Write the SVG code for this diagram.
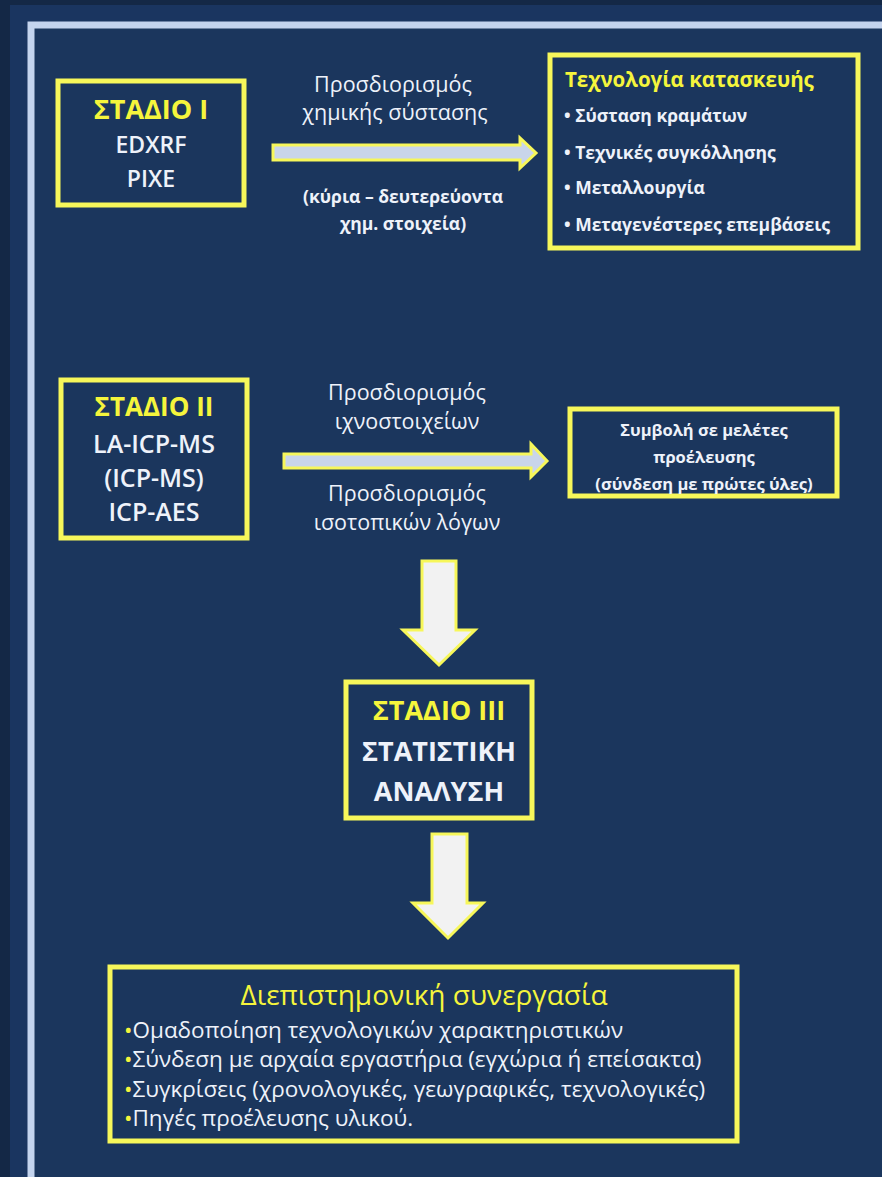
<svg xmlns="http://www.w3.org/2000/svg" width="882" height="1177" viewBox="0 0 882 1177">
<style>
.box{fill:#1b365d;stroke:#f7f75a;stroke-width:5}
.t{font-family:"Open Sans","Noto Sans","DejaVu Sans",sans-serif;text-anchor:middle;fill:#eef2fa}
.s{text-anchor:start}
.y{fill:#f5f53c;font-weight:bold}
.b{font-weight:bold}
.m{font-weight:600}
.yd{fill:#f5f53c}
.arrowH{fill:#c9d5ea;stroke:#f7f75a;stroke-width:3;stroke-linejoin:miter}
.arrowV{fill:#f2f2f2;stroke:#f7f75a;stroke-width:3;stroke-linejoin:miter}
</style>
<rect x="0" y="0" width="882" height="1177" fill="#1a3560"/>
<rect x="0" y="0" width="10" height="1177" fill="#142846"/>
<rect x="0" y="0" width="882" height="5" fill="#142846"/>
<rect x="31" y="25" width="860" height="1160" fill="#1b365d" stroke="#c4d4ee" stroke-width="7"/>

<g id="connectors">
<path class="arrowH" d="M273,145 H520 V138 L536,153 L520,168 V160 H273 Z"/>
<path class="arrowH" d="M284,454 H531 V444 L547,461 L531,477 V468 H284 Z"/>
<path class="arrowV" d="M422,561 H456 V630 H475 L439,665 L403,630 H422 Z"/>
<path class="arrowV" d="M432,834 H467 V903 H483 L448,938 L413,903 H432 Z"/>
</g>

<g id="stage1">
<rect class="box" x="58" y="81" width="186" height="124"/>
<text class="t y" x="151" y="119" font-size="27">ΣΤΑΔΙΟ Ι</text>
<text class="t m" x="151" y="153" font-size="23">EDXRF</text>
<text class="t m" x="151" y="187" font-size="23">PIXE</text>
</g>

<g id="label1">
<text class="t" x="393" y="92" font-size="21.5">Προσδιορισμός</text>
<text class="t" x="395" y="120" font-size="21.5">χημικής σύστασης</text>
<text class="t b" x="403" y="203" font-size="17.5">(κύρια – δευτερεύοντα</text>
<text class="t b" x="403" y="230" font-size="17.5">χημ. στοιχεία)</text>
</g>

<g id="tech">
<rect class="box" x="550" y="55" width="308" height="193"/>
<text class="t y s" x="565" y="87" font-size="20.5">Τεχνολογία κατασκευής</text>
<text class="t b s" x="564" y="122" font-size="17.5">• Σύσταση κραμάτων</text>
<text class="t b s" x="564" y="159" font-size="17.5">• Τεχνικές συγκόλλησης</text>
<text class="t b s" x="564" y="194" font-size="17.5">• Μεταλλουργία</text>
<text class="t b s" x="564" y="231" font-size="17.5">• Μεταγενέστερες επεμβάσεις</text>
</g>

<g id="stage2">
<rect class="box" x="61" y="380" width="186" height="158"/>
<text class="t y" x="154" y="416" font-size="26">ΣΤΑΔΙΟ ΙΙ</text>
<text class="t m" x="154" y="453" font-size="25">LA-ICP-MS</text>
<text class="t m" x="154" y="487" font-size="25">(ICP-MS)</text>
<text class="t m" x="154" y="521" font-size="25">ICP-AES</text>
</g>

<g id="label2">
<text class="t" x="407" y="400" font-size="21.5">Προσδιορισμός</text>
<text class="t" x="407" y="429" font-size="21.5">ιχνοστοιχείων</text>
<text class="t" x="407" y="501" font-size="21.5">Προσδιορισμός</text>
<text class="t" x="407" y="530" font-size="21.5">ισοτοπικών λόγων</text>
</g>

<g id="provenance">
<rect class="box" x="570" y="409" width="267" height="87"/>
<text class="t b" x="704" y="436" font-size="16.5">Συμβολή σε μελέτες</text>
<text class="t b" x="704" y="463" font-size="16.5">προέλευσης</text>
<text class="t b" x="704" y="490" font-size="16.5">(σύνδεση με πρώτες ύλες)</text>
</g>

<g id="stage3">
<rect class="box" x="346" y="682" width="186" height="136"/>
<text class="t y" x="439" y="720" font-size="27">ΣΤΑΔΙΟ ΙΙΙ</text>
<text class="t b" x="439" y="761" font-size="27">ΣΤΑΤΙΣΤΙΚΗ</text>
<text class="t b" x="439" y="801" font-size="27">ΑΝΑΛΥΣΗ</text>
</g>

<g id="interdisciplinary">
<rect class="box" x="110" y="967" width="627" height="174"/>
<text class="t yd" x="424" y="1005" font-size="28">Διεπιστημονική συνεργασία</text>
<text class="t s" x="124" y="1038" font-size="22.5"><tspan class="yd">•</tspan>Ομαδοποίηση τεχνολογικών χαρακτηριστικών</text>
<text class="t s" x="124" y="1067" font-size="22.5"><tspan class="yd">•</tspan>Σύνδεση με αρχαία εργαστήρια (εγχώρια ή επείσακτα)</text>
<text class="t s" x="124" y="1097" font-size="22.5"><tspan class="yd">•</tspan>Συγκρίσεις (χρονολογικές, γεωγραφικές, τεχνολογικές)</text>
<text class="t s" x="124" y="1126" font-size="22.5"><tspan class="yd">•</tspan>Πηγές προέλευσης υλικού.</text>
</g>
</svg>
